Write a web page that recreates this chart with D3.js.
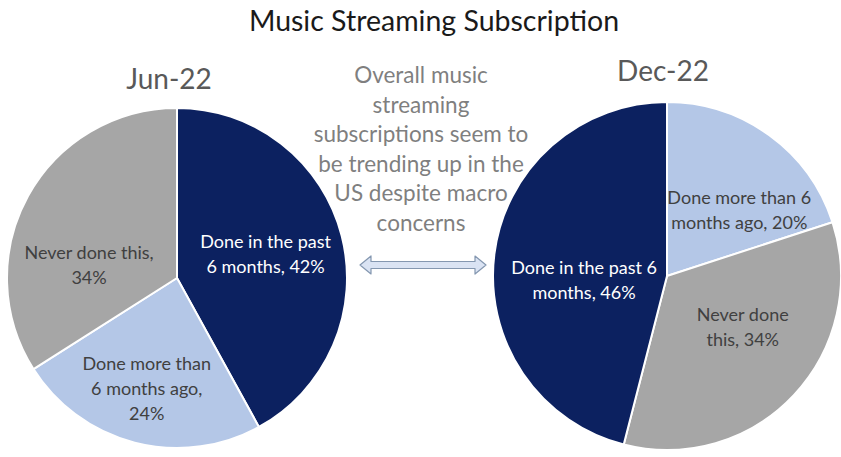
<!DOCTYPE html>
<html>
<head>
<meta charset="utf-8">
<script src="https://cdn.jsdelivr.net/npm/d3@7"></script>
<style>
  html, body { margin: 0; padding: 0; background: #ffffff; }
  svg { display: block; }
  text { font-family: Lato, "Noto Sans", sans-serif; }
</style>
</head>
<body>
<svg id="chart" width="841" height="457"></svg>
<script>
// Survey answers: "Have you subscribed to a music streaming service?"
const title = "Music Streaming Subscription";
const periods = ["Jun-22", "Dec-22"];
const answersJun = ["Done in the past 6 months", "Done more than 6 months ago", "Never done this"];
const valuesJun = [42, 24, 34];
const answersDec = ["Done more than 6 months ago", "Never done this", "Done in the past 6 months"];
const valuesDec = [20, 34, 46];
const labelLinesJun = [["Done in the past", "6 months, 42%"], ["Done more than", "6 months ago,", "24%"], ["Never done this,", "34%"]];
const labelLinesDec = [["Done more than 6", "months ago, 20%"], ["Never done", "this, 34%"], ["Done in the past 6", "months, 46%"]];
const noteLines = ["Overall music", "streaming", "subscriptions seem to", "be trending up in the", "US despite macro", "concerns"];

const svg = d3.select("#chart");

const colour = d3.scaleOrdinal()
  .domain(["Done in the past 6 months", "Done more than 6 months ago", "Never done this"])
  .range(["#0c2160", "#b4c7e7", "#a6a6a6"]);
const textColour = d3.scaleOrdinal()
  .domain(colour.domain())
  .range(["#ffffff", "#404040", "#404040"]);

const pie = d3.pie().sort(null).value(d => d.value);

// Chart title
svg.append("text")
  .attr("x", 434).attr("y", 31)
  .attr("text-anchor", "middle")
  .attr("font-size", 28.5)
  .attr("fill", "#1a1a1a")
  .text(title);

// One pie per survey wave
const panels = [
  { period: periods[0], answers: answersJun, values: valuesJun, lines: labelLinesJun,
    cx: 177, cy: 278, r: 170, titleY: 89, titleX: 169,
    nudges: [[-2, 0], [-7, 20], [-6, 33]] },
  { period: periods[1], answers: answersDec, values: valuesDec, lines: labelLinesDec,
    cx: 667, cy: 276, r: 174, titleY: 81, titleX: 663,
    nudges: [[16, 12], [6, -14], [12, 16]] }
];

panels.forEach(p => {
  const data = p.answers.map((a, i) => ({ answer: a, value: p.values[i], lines: p.lines[i] }));
  const arcs = pie(data);
  const arc = d3.arc().innerRadius(0).outerRadius(p.r);
  const labelArc = d3.arc().innerRadius(p.r * 0.55).outerRadius(p.r * 0.55);

  const g = svg.append("g").attr("transform", `translate(${p.cx},${p.cy})`);

  g.selectAll("path")
    .data(arcs)
    .join("path")
    .attr("d", arc)
    .attr("fill", d => colour(d.data.answer))
    .attr("stroke", "#ffffff")
    .attr("stroke-width", 2)
    .attr("stroke-linejoin", "round");

  const lineH = 25;
  g.selectAll("text.slice-label")
    .data(arcs)
    .join("text")
    .attr("class", "slice-label")
    .attr("text-anchor", "middle")
    .attr("font-size", 18)
    .attr("fill", d => textColour(d.data.answer))
    .each(function (d, i) {
      const [x, y] = labelArc.centroid(d);
      const nx = x + p.nudges[i][0];
      const ny = y + p.nudges[i][1];
      const n = d.data.lines.length;
      const t = d3.select(this);
      d.data.lines.forEach((ln, k) => {
        t.append("tspan")
          .attr("x", nx)
          .attr("y", ny + (k - (n - 1) / 2) * lineH + 6)
          .text(ln);
      });
    });

  svg.append("text")
    .attr("x", p.titleX)
    .attr("y", p.titleY)
    .attr("text-anchor", "middle")
    .attr("font-size", 28)
    .attr("fill", "#595959")
    .text(p.period);
});

// Commentary between the two pies
svg.append("text")
  .attr("text-anchor", "middle")
  .attr("font-size", 22.5)
  .attr("fill", "#7f7f7f")
  .selectAll("tspan")
  .data(noteLines)
  .join("tspan")
  .attr("x", 421)
  .attr("y", (d, i) => 83 + i * 29.5)
  .text(d => d);

// Double-headed arrow linking the two waves
const ax0 = 360, ax1 = 486, ay = 265, shaftH = 3.5, headH = 9, headL = 11;
const arrow = d3.path();
arrow.moveTo(ax0, ay);
arrow.lineTo(ax0 + headL, ay - headH);
arrow.lineTo(ax0 + headL, ay - shaftH);
arrow.lineTo(ax1 - headL, ay - shaftH);
arrow.lineTo(ax1 - headL, ay - headH);
arrow.lineTo(ax1, ay);
arrow.lineTo(ax1 - headL, ay + headH);
arrow.lineTo(ax1 - headL, ay + shaftH);
arrow.lineTo(ax0 + headL, ay + shaftH);
arrow.lineTo(ax0 + headL, ay + headH);
arrow.closePath();
svg.append("path")
  .attr("d", arrow.toString())
  .attr("fill", "#dae3f3")
  .attr("stroke", "#8497b0")
  .attr("stroke-width", 1.2)
  .attr("stroke-linejoin", "round");
</script>
</body>
</html>
